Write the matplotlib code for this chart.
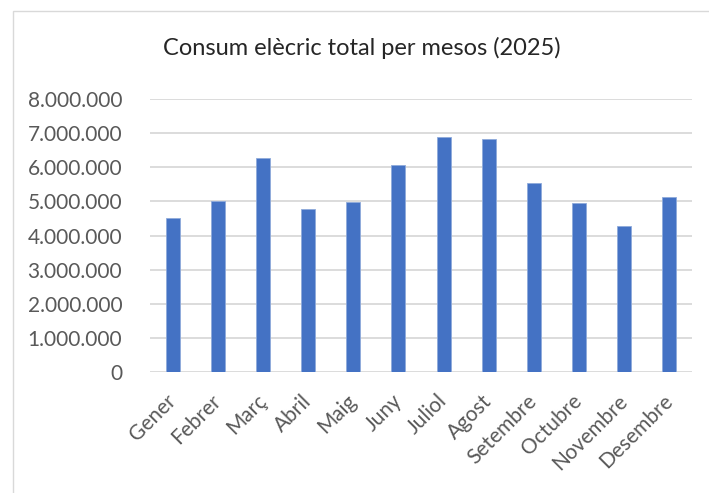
import matplotlib
matplotlib.use("Agg")
import matplotlib.pyplot as plt
from matplotlib.ticker import FuncFormatter
from matplotlib.patches import Rectangle
from matplotlib.transforms import ScaledTranslation

months = ["Gener", "Febrer", "Març", "Abril", "Maig", "Juny", "Juliol",
          "Agost", "Setembre", "Octubre", "Novembre", "Desembre"]
consum = [4500000, 5020000, 6260000, 4790000, 4980000, 6070000, 6880000,
          6820000, 5550000, 4950000, 4280000, 5130000]
yticks = [0, 1000000, 2000000, 3000000, 4000000, 5000000, 6000000, 7000000, 8000000]
title = "Consum elècric total per mesos (2025)"

plt.rcParams['font.family'] = ['Lato', 'DejaVu Sans']

fig = plt.figure(figsize=(7.09, 4.93), dpi=100)
W, H = 709, 493
ax = fig.add_axes([150 / W, 1 - 372 / H, (692 - 150) / W, (372 - 99) / H])

x = list(range(len(months)))
ax.bar(x, consum, width=0.31, color="#4472c4", edgecolor="#8eaadb", linewidth=0.6, zorder=3)
ax.set_xlim(-0.5, len(months) - 0.5)
ax.set_ylim(0, 8000000)
ax.set_yticks(yticks)
ax.yaxis.set_major_formatter(FuncFormatter(lambda v, p: f"{int(v):,}".replace(",", ".")))
ax.set_xticks(x)
ax.set_xticklabels(months, rotation=45, ha="right", rotation_mode="anchor")
ax.grid(axis="y", color="#d9d9d9", linewidth=1.3, zorder=0)
for s in ax.spines.values():
    s.set_visible(False)
ax.tick_params(axis="x", length=0, colors="#595959", labelsize=15, pad=10)
ax.tick_params(axis="y", length=0, colors="#595959", labelsize=15, pad=20)
offset = ScaledTranslation(-7 / 100, -5 / 100, fig.dpi_scale_trans)
for lab in ax.get_xticklabels():
    lab.set_transform(lab.get_transform() + offset)

fig.text(362 / W, 1 - 48 / H, title, ha="center", va="center", fontsize=17, color="#262626")

fig.patches.append(Rectangle((13 / W, -0.1), 1.2, (1 - 11 / H) + 0.1, transform=fig.transFigure,
                             fill=False, edgecolor="#d9d9d9", linewidth=1.0))

fig.savefig("out.png", dpi=100)
